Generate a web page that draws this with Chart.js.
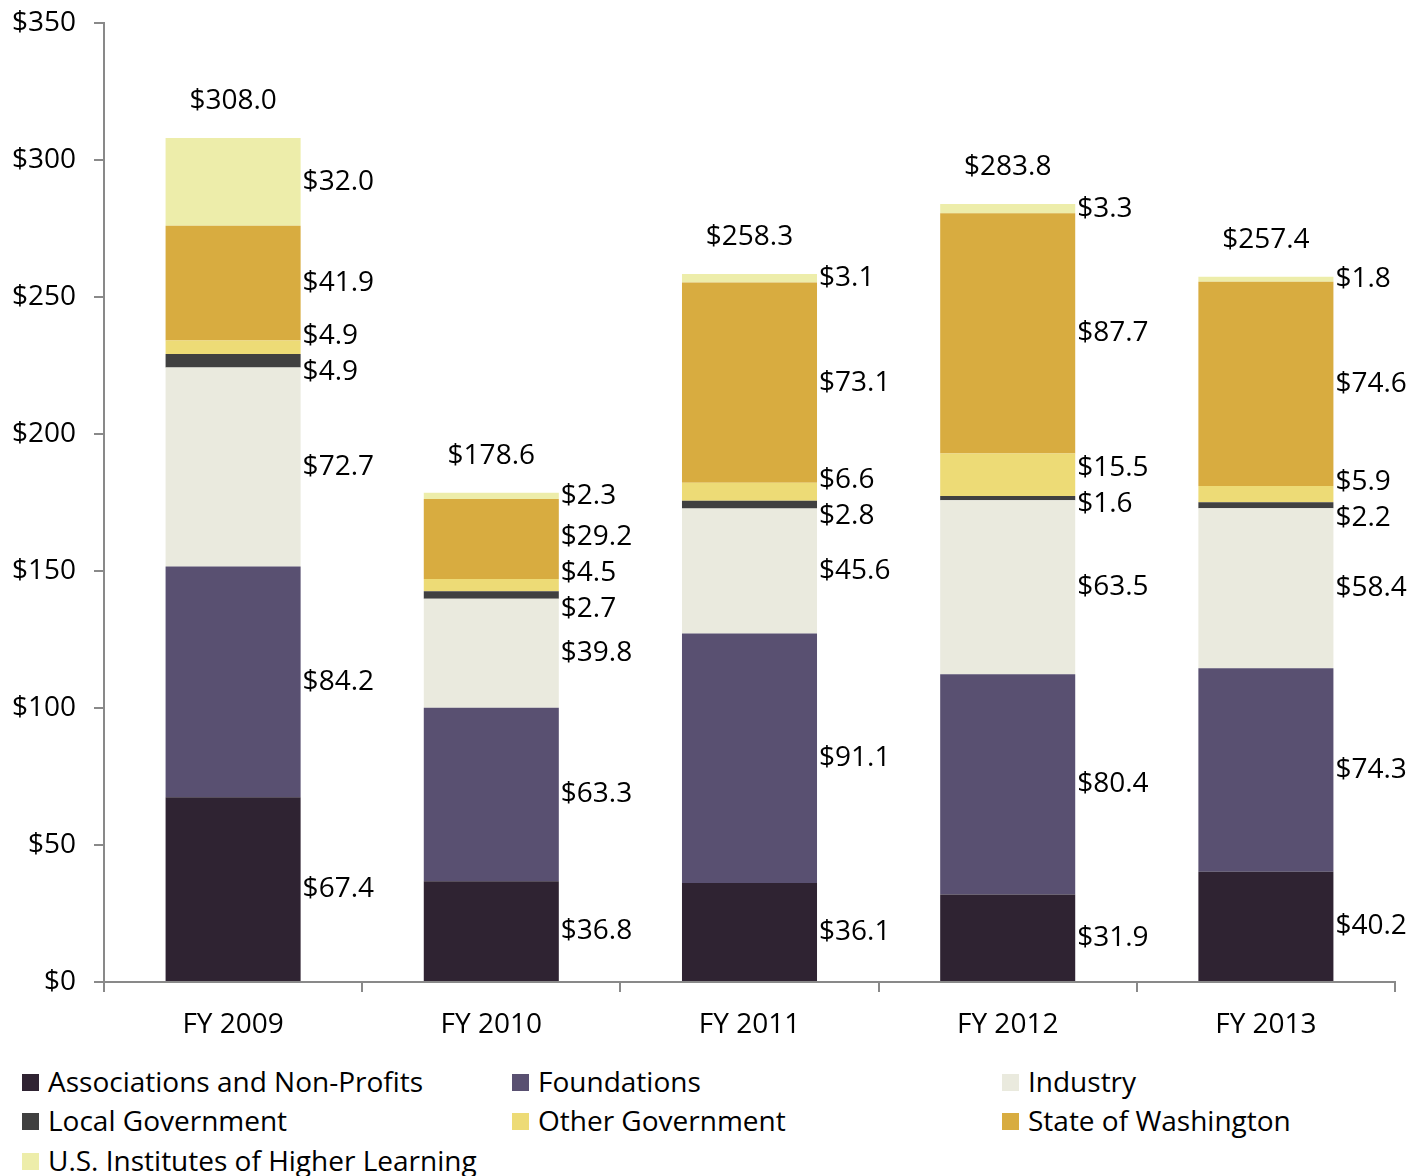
<!DOCTYPE html>
<html lang="en">
<head>
  <meta charset="UTF-8">
  <title>Research Funding by Source</title>
  <script src="https://cdn.jsdelivr.net/npm/chart.js"></script>
  <style>
    body { margin: 0; background: #fff; font-family: "Open Sans", sans-serif; }
    #wrap { position: relative; width: 1422px; height: 1176px; }
    #legend { position: absolute; left: 0; top: 1061px; width: 1422px; }
    .item { position: absolute; display: flex; align-items: center; height: 39px;
            font-size: 28px; color: #000; white-space: nowrap; }
    .item span.sw { display: inline-block; width: 17px; height: 17px; margin-right: 9px; margin-top: 3px; }
  </style>
</head>
<body>
<div id="wrap">
  <canvas id="chart" width="1422" height="1060"></canvas>
  <div id="legend"></div>
</div>
<script>
  const categories = ['FY 2009', 'FY 2010', 'FY 2011', 'FY 2012', 'FY 2013'];
  const assocNonProfits = [67.4, 36.8, 36.1, 31.9, 40.2];
  const foundations = [84.2, 63.3, 91.1, 80.4, 74.3];
  const industry = [72.7, 39.8, 45.6, 63.5, 58.4];
  const localGov = [4.9, 2.7, 2.8, 1.6, 2.2];
  const otherGov = [4.9, 4.5, 6.6, 15.5, 5.9];
  const stateWA = [41.9, 29.2, 73.1, 87.7, 74.6];
  const usHigherLearning = [32.0, 2.3, 3.1, 3.3, 1.8];
  const totals = [308.0, 178.6, 258.3, 283.8, 257.4];
  const yMax = 350, yStep = 50;

  const seriesNames = ['Associations and Non-Profits', 'Foundations', 'Industry',
    'Local Government', 'Other Government', 'State of Washington', 'U.S. Institutes of Higher Learning'];
  const seriesData = [assocNonProfits, foundations, industry, localGov, otherGov, stateWA, usHigherLearning];
  const colors = ['#2f2332', '#595071', '#eaeade', '#404040', '#eddb76', '#d8ac40', '#ededaa'];

  const FONT = { family: '"Open Sans", sans-serif', size: 28 };
  const AXIS = '#898989';

  // labels to the right of each segment, pushed apart when they collide
  const segmentLabels = {
    id: 'segmentLabels',
    afterDatasetsDraw(chart) {
      const ctx = chart.ctx;
      ctx.save();
      ctx.font = FONT.size + 'px ' + FONT.family;
      ctx.fillStyle = '#000';
      ctx.textBaseline = 'middle';
      const gap = 36;
      for (let i = 0; i < categories.length; i++) {
        const items = chart.data.datasets.map((ds, d) => {
          const bar = chart.getDatasetMeta(d).data[i];
          return { x: bar.x + bar.width / 2 + 2, y: (bar.y + bar.base) / 2, text: '$' + ds.data[i].toFixed(1) };
        });
        for (let it = 0; it < 100; it++) {
          for (let k = 0; k < items.length - 1; k++) {
            const diff = items[k].y - items[k + 1].y;
            if (diff < gap) {
              const s = (gap - diff) / 2;
              items[k].y += s;
              items[k + 1].y -= s;
            }
          }
        }
        ctx.textAlign = 'left';
        items.forEach(p => ctx.fillText(p.text, p.x, p.y));
        const top = chart.getDatasetMeta(chart.data.datasets.length - 1).data[i];
        ctx.textAlign = 'center';
        ctx.fillText('$' + totals[i].toFixed(1), top.x, top.y - 37);
      }
      ctx.restore();
    }
  };

  new Chart(document.getElementById('chart'), {
    type: 'bar',
    data: {
      labels: categories,
      datasets: seriesNames.map((name, i) => ({
        label: name,
        data: seriesData[i],
        backgroundColor: colors[i],
        borderWidth: 0,
        categoryPercentage: 1,
        barPercentage: 0.523
      }))
    },
    options: {
      responsive: false,
      animation: false,
      layout: { padding: { top: 23, right: 27, left: 0, bottom: 0 } },
      plugins: { legend: { display: false }, tooltip: { enabled: false } },
      scales: {
        x: {
          stacked: true,
          afterFit: s => { s.height = 78; },
          grid: { offset: true, drawOnChartArea: false, tickLength: 10, color: AXIS, lineWidth: 2 },
          border: { color: AXIS, width: 2 },
          ticks: { color: '#000', font: FONT, padding: 16 }
        },
        y: {
          stacked: true,
          min: 0,
          max: yMax,
          afterFit: s => { s.width = 104; s.paddingTop = 0; s.paddingBottom = 0; },
          grid: { drawOnChartArea: false, tickLength: 10, color: AXIS, lineWidth: 2 },
          border: { color: AXIS, width: 2 },
          ticks: { stepSize: yStep, color: '#000', font: FONT, padding: 18, callback: v => '$' + v }
        }
      }
    },
    plugins: [segmentLabels]
  });

  const legendX = [22, 512, 1002];
  const legend = document.getElementById('legend');
  seriesNames.forEach((name, i) => {
    const el = document.createElement('div');
    el.className = 'item';
    el.style.left = legendX[i % 3] + 'px';
    el.style.top = (Math.floor(i / 3) * 39.5) + 'px';
    el.innerHTML = '<span class="sw" style="background:' + colors[i] + '"></span>' + name;
    legend.appendChild(el);
  });
</script>
</body>
</html>
